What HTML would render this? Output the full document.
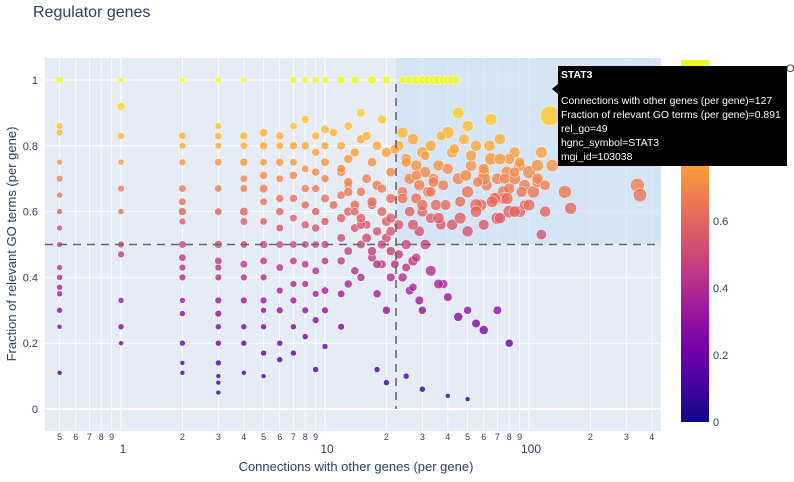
<!DOCTYPE html>
<html><head><meta charset="utf-8"><style>
html,body{margin:0;padding:0;background:#fff;width:794px;height:482px;overflow:hidden;font-family:"Liberation Sans",sans-serif}
svg text{font-family:"Liberation Sans",sans-serif}
</style></head><body>
<svg id="chart" width="794" height="482" xmlns="http://www.w3.org/2000/svg">
<defs>
<linearGradient id="plasma" x1="0" y1="1" x2="0" y2="0">
<stop offset="0" stop-color="#0d0887"/><stop offset="0.102" stop-color="#46039f"/><stop offset="0.204" stop-color="#7201a8"/><stop offset="0.306" stop-color="#9c179e"/><stop offset="0.408" stop-color="#bd3786"/><stop offset="0.51" stop-color="#d8576b"/><stop offset="0.612" stop-color="#ed7953"/><stop offset="0.714" stop-color="#fb9f3a"/><stop offset="0.816" stop-color="#fdca26"/><stop offset="0.918" stop-color="#f0f921"/><stop offset="1" stop-color="#f0f921"/>
</linearGradient>
<clipPath id="clip"><rect x="45" y="58" width="616" height="373"/></clipPath>
</defs>
<text x="33" y="17" font-size="16" fill="#2a3f5f">Regulator genes</text>
<rect x="45" y="58" width="616" height="373" fill="#e5ecf6"/>
<g id="grid"></g>
<rect id="hiRegion" fill="#cfe3f5" fill-opacity="0.7"/>
<g id="marks" clip-path="url(#clip)"></g>
<g id="refs"></g>
<g id="axes"></g>
<text x="356" y="471" font-size="13" fill="#2a3f5f" text-anchor="middle">Connections with other genes (per gene)</text>
<text transform="translate(16,244) rotate(-90)" font-size="13" fill="#2a3f5f" text-anchor="middle">Fraction of relevant GO terms (per gene)</text>
<rect x="681" y="60" width="28" height="362" fill="url(#plasma)"/>
<g id="cbticks"></g>
<text x="786" y="72" font-size="11" fill="#2a3f5f">O</text>
<g font-size="10.4">
<rect x="558" y="66" width="229" height="100" fill="#000"/>
<path d="M558,84 L552,89 L558,94 Z" fill="#000"/>
<text x="561" y="78" fill="#fff" font-weight="bold">STAT3</text>
<text x="561" y="104" fill="#fff">Connections with other genes (per gene)=127</text>
<text x="561" y="118" fill="#fff">Fraction of relevant GO terms (per gene)=0.891</text>
<text x="561" y="132" fill="#fff">rel_go=49</text>
<text x="561" y="146" fill="#fff">hgnc_symbol=STAT3</text>
<text x="561" y="160" fill="#fff">mgi_id=103038</text>
</g>
</svg>
<script>
const connX=[0.5,0.5,0.5,0.5,0.5,0.5,0.5,0.5,0.5,0.5,0.5,0.5,0.5,0.5,0.5,0.5,
1,1,1,1,1,1,1,1,1,1,1,
2,2,2,2,2,2,2,2,2,2,2,2,2,2,2,2,2,
3,3,3,3,3,3,3,3,3,3,3,3,3,3,3,3,3,3,3,
4,4,4,4,4,4,4,4,4,4,4,4,4,4,4,
5,5,5,5,5,5,5,5,5,5,5,5,5,5,5,
6,6,6,6,6,6,6,6,6,6,6,6,6,
7,7,7,7,7,7,7,7,7,7,7,7,7,
8,8,8,8,8,8,8,8,8,8,8,8,
9,9,9,9,9,9,9,9,9,9,9,9,
10,10,10,10,10,10,10,10,10,10,10,10,
12,12,12,12,12,12,12,12,12,13,13,13,13,13,13,14,14,14,14,14,15,15,15,15,15,
16,16,16,17,17,17,17,18,18,18,18,19,19,19,20,20,20,20,21,21,21,21,
23,23,24,24,25,25,26,26,27,27,28,28,29,29,30,30,31,31,32,33,33,34,35,36,37,38,
24,26,28,30,32,34,36,38,40,42,44,
40,42,45,48,50,52,55,58,60,62,65,68,70,72,75,78,80,85,90,95,
45,50,55,60,65,70,75,80,85,90,
100,105,110,115,120,127,130,150,160,
340,350,110,115,95,33,38,22,24,
26,28,30,36,40,45,50,55,60,70,80,
18,20,25,30,40,50,
11,12,13,14,15,16,17,18,19,20,11,13,15,17,19,21,23,25,27,29,
22,25,28,31,34,37,40,43,46,49,52,56,60,64,68,72,76,80,85,90,
21,24,27,30,33,36,39,42,46,50,55,60,66,72,78,85,92,100,110,120];
const fracGO=[1,0.86,0.84,0.75,0.7,0.65,0.6,0.55,0.5,0.43,0.4,0.37,0.35,0.3,0.25,0.11,
1,0.92,0.83,0.75,0.67,0.6,0.5,0.47,0.33,0.25,0.2,
1,0.83,0.8,0.75,0.67,0.63,0.6,0.57,0.5,0.46,0.43,0.4,0.33,0.29,0.2,0.14,0.11,
1,0.86,0.83,0.8,0.75,0.67,0.6,0.5,0.45,0.43,0.4,0.33,0.29,0.25,0.2,0.14,0.1,0.08,0.05,
1,0.83,0.8,0.75,0.7,0.67,0.6,0.57,0.5,0.44,0.4,0.33,0.25,0.2,0.11,
0.84,0.8,0.75,0.71,0.67,0.63,0.57,0.5,0.45,0.4,0.33,0.3,0.25,0.17,0.1,
0.83,0.8,0.75,0.7,0.64,0.6,0.55,0.5,0.43,0.36,0.3,0.2,0.15,
1,0.86,0.8,0.75,0.71,0.64,0.58,0.5,0.45,0.38,0.33,0.25,0.17,
1,0.88,0.8,0.73,0.67,0.62,0.56,0.5,0.44,0.38,0.3,0.22,
1,0.83,0.78,0.72,0.67,0.6,0.55,0.5,0.42,0.35,0.27,0.12,
1,0.85,0.8,0.75,0.7,0.64,0.57,0.5,0.45,0.36,0.3,0.19,
1,0.8,0.72,0.65,0.58,0.52,0.45,0.35,0.25,0.86,0.76,0.68,0.6,0.48,0.38,1,0.78,0.62,0.55,0.42,0.9,0.82,0.66,0.5,0.4,
0.83,0.7,0.56,1,0.75,0.62,0.46,0.8,0.68,0.54,0.35,0.88,0.6,0.44,1,0.78,0.52,0.3,0.72,0.64,0.48,0.4,
0.8,0.56,0.84,0.66,0.76,0.5,0.7,0.6,0.82,0.45,0.74,0.64,0.68,0.54,0.78,0.6,0.72,0.5,0.66,0.8,0.58,0.7,0.62,0.74,0.56,0.68,
1,1,1,1,1,1,1,1,1,1,1,
0.84,0.78,0.7,0.82,0.66,0.74,0.8,0.62,0.72,0.68,0.76,0.64,0.7,0.82,0.66,0.72,0.6,0.78,0.74,0.68,
0.9,0.86,0.62,0.7,0.88,0.58,0.64,0.76,0.7,0.6,
0.72,0.66,0.74,0.78,0.6,0.891,0.74,0.66,0.61,
0.68,0.65,0.69,0.53,0.62,0.42,0.38,0.44,0.4,
0.36,0.46,0.3,0.38,0.34,0.28,0.3,0.26,0.24,0.3,0.2,
0.12,0.08,0.1,0.06,0.04,0.03,
0.84,0.73,0.66,0.6,0.56,0.52,0.48,0.44,0.5,0.57,0.62,0.69,0.58,0.63,0.67,0.54,0.47,0.43,0.37,0.33,
0.79,0.75,0.71,0.77,0.69,0.83,0.73,0.79,0.63,0.71,0.77,0.69,0.73,0.8,0.64,0.76,0.7,0.67,0.72,0.75,
0.58,0.64,0.56,0.62,0.66,0.58,0.62,0.56,0.58,0.54,0.6,0.56,0.63,0.58,0.64,0.6,0.66,0.62,0.7,0.68];
const relGO=[4,3,3,2,3,2,2,2,2,2,2,2,2,2,1,1,
2,5,3,2,3,2,3,3,2,2,1,
2,4,3,3,4,4,5,3,4,4,3,3,2,2,2,1,1,
2,3,4,3,4,4,4,5,4,3,3,3,3,2,2,2,1,1,1,
2,5,4,5,4,4,6,4,4,4,3,3,2,2,1,
6,5,4,5,6,4,4,5,4,3,3,2,2,2,1,
5,4,5,4,5,5,4,4,4,3,3,2,2,
3,4,5,4,5,5,4,4,4,3,3,2,2,
3,5,5,4,5,5,5,4,4,3,3,2,
3,5,5,5,5,5,5,4,4,3,3,2,
4,6,5,6,5,6,5,5,4,4,3,2,
5,6,7,6,7,6,5,4,3,6,7,6,7,6,5,5,7,8,6,5,6,7,7,6,5,
7,8,6,6,8,7,6,8,9,7,5,7,8,6,6,9,8,5,8,9,7,6,
10,9,12,10,11,9,12,10,13,9,12,11,12,10,13,11,12,10,11,12,10,11,12,12,10,11,
5,6,6,7,6,7,8,6,6,7,6,
16,12,14,11,15,13,12,15,14,12,16,14,13,12,15,14,16,12,14,13,
14,13,16,18,15,16,14,12,15,14,
18,16,15,14,12,49,16,18,15,
22,20,12,10,9,11,7,6,7,
6,7,5,8,6,7,5,6,7,6,5,
2,2,2,2,1,1,
5,6,7,6,7,8,7,6,7,8,6,7,8,9,7,8,7,6,5,6,
8,9,10,8,11,9,12,10,11,13,12,10,11,12,14,13,11,12,10,9,
9,10,11,12,10,13,11,12,14,12,13,11,14,12,15,13,12,14,12,10];

const X0=45,X1=661,Y0=58,Y1=431;
function xs(v){return 121+204*Math.log10(v);}
function ys(v){return 409-329*v;}
const stops=[[0,[13,8,135]],[0.111,[70,3,159]],[0.222,[114,1,168]],[0.333,[156,23,158]],[0.444,[189,55,134]],[0.556,[216,87,107]],[0.667,[237,121,83]],[0.778,[251,159,58]],[0.889,[253,202,38]],[1,[240,249,33]]];
function plasma(t){t=Math.max(0,Math.min(1,t));for(let i=1;i<stops.length;i++){if(t<=stops[i][0]){const a=stops[i-1],b=stops[i],f=(t-a[0])/(b[0]-a[0]);return 'rgb('+a[1].map((c,k)=>Math.round(c+(b[1][k]-c)*f)).join(',')+')';}}return 'rgb(240,249,33)';}
const NS='http://www.w3.org/2000/svg';
function mk(tag,attrs,parent){const e=document.createElementNS(NS,tag);for(const k in attrs)e.setAttribute(k,attrs[k]);parent.appendChild(e);return e;}
const grid=document.getElementById('grid'),axes=document.getElementById('axes');
for(let d=-1;d<=2;d++){for(let m=1;m<=9;m++){const v=m*Math.pow(10,d);if(v<0.5||v>400)continue;const x=xs(v);
const gl=mk('line',{x1:x,x2:x,y1:Y0,y2:Y1,stroke:'#fff','stroke-width':m===1?1.2:0.8},grid);


const major=(m===1);
const t=mk('text',{x:x+(major?2:0),y:major?453:440,'font-size':major?12:9,fill:'#2a3f5f','text-anchor':'middle'},axes);
t.textContent=major?String(v):String(m);

}}
const yTicks=[0,0.2,0.4,0.6,0.8,1];
yTicks.forEach(v=>{const y=ys(v);
const gl=mk('line',{x1:X0,x2:X1,y1:y,y2:y,stroke:'#fff','stroke-width':v===0?2:1},grid);


const t=mk('text',{x:38,y:y+4,'font-size':11,fill:'#2a3f5f','text-anchor':'end'},axes);t.textContent=String(v);

});
const xThr=22.3,yThr=0.5;
const hr=document.getElementById('hiRegion');hr.setAttribute('x',xs(xThr));hr.setAttribute('y',Y0);hr.setAttribute('width',X1-xs(xThr));hr.setAttribute('height',ys(yThr)-Y0);
const marks=document.getElementById('marks');
connX.forEach((cx,i)=>{const c=mk('circle',{cx:xs(cx),cy:ys(fracGO[i]),r:(1.2+Math.sqrt(relGO[i])*1.25).toFixed(2),fill:plasma(fracGO[i]),'fill-opacity':0.8,stroke:'#fff','stroke-width':0.5},marks);

});
const refs=document.getElementById('refs');
const h=mk('line',{x1:X0,x2:X1,y1:ys(yThr),y2:ys(yThr),stroke:'#666','stroke-width':1.6,'stroke-dasharray':'8,6'},refs);


const vl=mk('line',{x1:xs(xThr),x2:xs(xThr),y1:ys(1)+4,y2:ys(0),stroke:'#666','stroke-width':1.6,'stroke-dasharray':'8,6'},refs);


const cb=document.getElementById('cbticks');
[0,0.2,0.4,0.6].forEach(v=>{const t=mk('text',{x:713,y:422-v*335+4,'font-size':11,fill:'#2a3f5f'},cb);t.textContent=String(v);

});
</script>
</body></html>
